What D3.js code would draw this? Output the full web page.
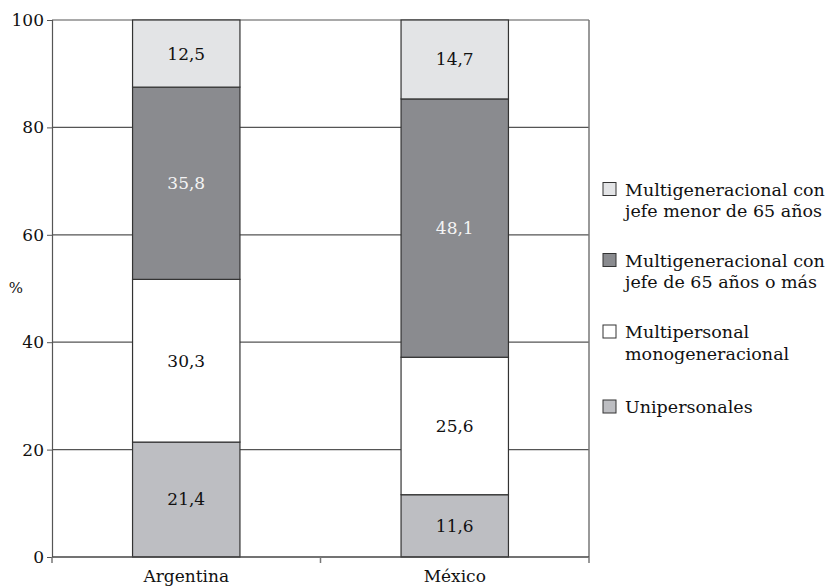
<!DOCTYPE html>
<html>
<head>
<meta charset="utf-8">
<script src="https://cdn.jsdelivr.net/npm/d3@7"></script>
<style>
  html, body { margin: 0; padding: 0; background: #fff; }
  svg { display: block; }
  text { font-family: "DejaVu Serif", "Liberation Serif", serif; fill: #111; }
</style>
</head>
<body>
<svg id="chart" width="828" height="587"></svg>
<script>
// Household composition by country (%), stacked bottom to top
const countries = ["Argentina", "México"];
const seriesNames = [
  "Unipersonales",
  "Multipersonal monogeneracional",
  "Multigeneracional con jefe de 65 años o más",
  "Multigeneracional con jefe menor de 65 años"
];
const unipersonales = [21.4, 11.6];
const monogeneracional = [30.3, 25.6];
const jefeMayor = [35.8, 48.1];
const jefeMenor = [12.5, 14.7];
const yTicks = [0, 20, 40, 60, 80, 100];

// Legend entries, top to bottom, each split over two lines
const legendLines = [
  ["Multigeneracional con", "jefe menor de 65 años"],
  ["Multigeneracional con", "jefe de 65 años o más"],
  ["Multipersonal", "monogeneracional"],
  ["Unipersonales"]
];
const legendSeries = [3, 2, 1, 0];

const fills = ["#bdbec2", "#ffffff", "#8a8b8f", "#e3e4e6"];
const labelColors = ["#111", "#111", "#f4f4f4", "#111"];

const values = [unipersonales, monogeneracional, jefeMayor, jefeMenor];
const rows = countries.map((c, i) => {
  const r = { country: c };
  seriesNames.forEach((s, k) => r[s] = values[k][i]);
  return r;
});
const stacked = d3.stack().keys(seriesNames)(rows);

const svg = d3.select("#chart");
const plotLeft = 52, plotRight = 589, plotTop = 20, plotBottom = 557;
const fontSize = "17px";

const x = d3.scaleBand().domain(countries).range([plotLeft, plotRight]).paddingInner(0.6).paddingOuter(0.3);
const xBand = d3.scaleBand().domain(countries).range([plotLeft, plotRight]);
const y = d3.scaleLinear().domain([0, 100]).range([plotBottom, plotTop]);

// Horizontal gridlines
svg.append("g")
  .selectAll("line")
  .data(yTicks.filter(t => t > 0))
  .join("line")
  .attr("x1", plotLeft).attr("x2", plotRight)
  .attr("y1", d => y(d)).attr("y2", d => y(d))
  .attr("stroke", "#555").attr("stroke-width", 1.2);

// Right border
svg.append("line")
  .attr("x1", plotRight).attr("x2", plotRight).attr("y1", plotTop).attr("y2", plotBottom)
  .attr("stroke", "#777").attr("stroke-width", 1.5);

// Stacked bars
const layers = svg.append("g").selectAll("g")
  .data(stacked)
  .join("g")
  .attr("fill", (d, i) => fills[i]);

layers.selectAll("rect")
  .data(d => d)
  .join("rect")
  .attr("x", d => x(d.data.country))
  .attr("width", x.bandwidth())
  .attr("y", d => y(d[1]))
  .attr("height", d => y(d[0]) - y(d[1]))
  .attr("stroke", "#333").attr("stroke-width", 1.2);

// Value labels inside segments
stacked.forEach((layer, k) => {
  svg.append("g").selectAll("text")
    .data(layer)
    .join("text")
    .attr("x", d => x(d.data.country) + x.bandwidth() / 2)
    .attr("y", d => y((d[0] + d[1]) / 2))
    .attr("dy", "0.35em")
    .attr("text-anchor", "middle")
    .style("font-size", fontSize)
    .style("fill", labelColors[k])
    .text(d => d3.format(".1f")(d[1] - d[0]).replace(".", ","));
});

// Y axis
const yAxis = svg.append("g")
  .attr("transform", `translate(${plotLeft},0)`)
  .call(d3.axisLeft(y).tickValues(yTicks).tickSize(5).tickPadding(3));
yAxis.select(".domain").attr("stroke", "#555").attr("stroke-width", 1.2);
yAxis.selectAll(".tick line").attr("stroke", "#555");
yAxis.selectAll(".tick text")
  .style("font-size", fontSize)
  .style("font-family", "DejaVu Serif, serif")
  .attr("fill", "#111");

// X axis with tick marks at category boundaries
const xAxisG = svg.append("g").attr("transform", `translate(0,${plotBottom})`);
xAxisG.append("line")
  .attr("x1", plotLeft).attr("x2", plotRight)
  .attr("stroke", "#444").attr("stroke-width", 1.4);
xAxisG.selectAll("line.tick")
  .data([plotLeft, ...countries.map(c => xBand(c) + xBand.bandwidth())])
  .join("line")
  .attr("class", "tick")
  .attr("x1", d => d).attr("x2", d => d)
  .attr("y1", 0).attr("y2", 6)
  .attr("stroke", "#777").attr("stroke-width", 1.5);
xAxisG.selectAll("text")
  .data(countries)
  .join("text")
  .attr("x", d => xBand(d) + xBand.bandwidth() / 2)
  .attr("y", 25)
  .attr("text-anchor", "middle")
  .style("font-size", fontSize)
  .text(d => d);

// Y axis title
svg.append("text")
  .attr("x", 16).attr("y", 293)
  .attr("text-anchor", "middle")
  .style("font-size", "15px")
  .text("%");

// Legend
const legendY = [189, 260, 331.5, 406.5];
const legend = svg.append("g").selectAll("g")
  .data(legendLines)
  .join("g")
  .attr("transform", (d, i) => `translate(603,${legendY[i]})`);
legend.append("rect")
  .attr("x", 0).attr("y", -6.5).attr("width", 13).attr("height", 13)
  .attr("fill", (d, i) => fills[legendSeries[i]])
  .attr("stroke", "#333").attr("stroke-width", 1);
legend.each(function(lines) {
  const t = d3.select(this).append("text")
    .attr("x", 22).attr("y", 0)
    .style("font-size", "17.5px");
  lines.forEach((ln, j) => {
    t.append("tspan").attr("x", 22).attr("dy", j === 0 ? "0.38em" : "1.22em").text(ln);
  });
});
</script>
</body>
</html>
